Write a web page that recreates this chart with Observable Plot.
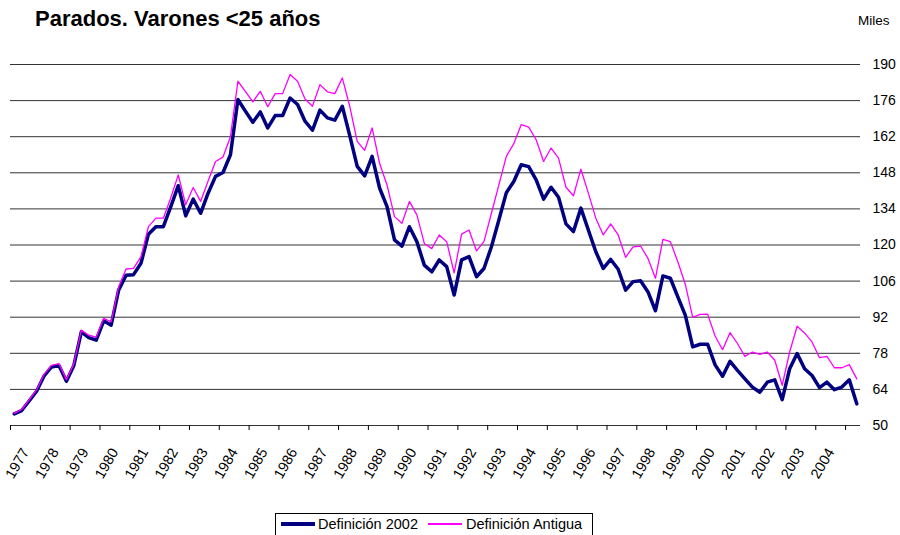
<!DOCTYPE html>
<html><head><meta charset="utf-8">
<script src="https://cdn.jsdelivr.net/npm/d3@7"></script>
<script src="https://cdn.jsdelivr.net/npm/@observablehq/plot@0.6"></script>
<style>
body{margin:0;background:#fff;font-family:"Liberation Sans",Arial,sans-serif;}
#wrap{position:relative;width:900px;height:535px;overflow:hidden;background:#fff;}
#title{position:absolute;left:35px;top:6px;font-weight:bold;font-size:22px;white-space:nowrap;}
#miles{position:absolute;left:858px;top:13px;font-size:13.5px;}
#chart{position:absolute;left:0;top:40px;}
#legend{position:absolute;left:275px;top:513px;width:316px;height:30px;border:1px solid #000;background:#fff;font-size:14.5px;}
#legend .s{position:absolute;width:34px;}
#legend .t{position:absolute;top:1px;white-space:nowrap;line-height:18px;}
</style></head><body>
<div id="wrap">
  <div id="title">Parados. Varones &lt;25 años</div>
  <div id="miles">Miles</div>
  <div id="chart"></div>
  <div id="legend">
    <div class="s" style="left:5px;top:8px;height:3.5px;background:#000080"></div>
    <div class="t" style="left:42px">Definición 2002</div>
    <div class="s" style="left:152px;top:9px;height:1.5px;background:#ff00ff"></div>
    <div class="t" style="left:190px">Definición Antigua</div>
  </div>
</div>
<script>
// Tick labels (one per year, quarterly data starting 1977 Q1)
const years = d3.range(1977, 2005);
const yTicks = [50, 64, 78, 92, 106, 120, 134, 148, 162, 176, 190];

// Definición 2002 (miles), quarterly
const def2002 = [
  54.5, 55.8, 59.5, 63.3, 69.2, 72.7, 73.3, 67.2, 73.3, 86.3,
  84.1, 83.1, 90.6, 88.9, 102.5, 108.3, 108.5, 112.9, 124.2, 127.1,
  127.1, 134.9, 143.0, 131.3, 137.8, 132.3, 140.1, 146.6, 148.1, 155.0,
  176.4, 171.9, 167.6, 171.6, 165.4, 170.2, 170.2, 177.0, 174.5, 168.0,
  164.5, 172.3, 169.3, 168.4, 173.8, 162.4, 150.5, 146.8, 154.4, 142.1,
  134.9, 122.0, 119.6, 127.1, 121.3, 112.2, 109.6, 114.2, 111.6, 100.6,
  114.2, 115.5, 107.7, 110.9, 119.3, 129.7, 140.3, 144.6, 151.1, 150.4,
  145.3, 137.8, 142.4, 138.5, 128.2, 125.2, 134.3, 125.8, 117.4, 110.9,
  114.4, 110.6, 102.5, 105.8, 106.1, 101.8, 94.5, 108.0, 107.1, 99.9,
  92.8, 80.5, 81.5, 81.5, 73.5, 69.1, 74.9, 71.4, 68.1, 64.9,
  62.9, 66.8, 67.7, 60.0, 72.0, 77.9, 72.0, 69.4, 64.7, 66.8,
  63.9, 64.9, 67.7, 58.4
];

// Definición Antigua (miles), quarterly
const antigua = [
  54.7, 56.2, 59.9, 63.8, 69.8, 73.3, 74.0, 67.8, 74.0, 87.0,
  85.0, 84.3, 91.6, 90.2, 103.8, 110.7, 110.9, 115.5, 127.1, 130.4,
  130.4, 138.3, 147.2, 135.6, 142.3, 136.9, 144.8, 152.4, 154.1, 162.0,
  183.5, 179.6, 175.5, 179.6, 173.6, 178.7, 178.7, 186.1, 183.5, 176.6,
  173.8, 182.2, 179.4, 178.7, 184.8, 173.8, 160.2, 156.7, 165.4, 151.7,
  143.3, 131.0, 128.4, 136.9, 131.7, 120.6, 118.6, 123.9, 121.3, 109.2,
  124.2, 125.8, 117.7, 121.3, 132.3, 143.3, 154.4, 159.3, 166.7, 165.7,
  160.8, 152.4, 157.6, 153.7, 142.4, 139.1, 149.4, 140.1, 130.4, 123.9,
  128.2, 123.9, 115.2, 119.3, 119.6, 114.8, 107.1, 122.2, 121.3, 113.5,
  104.8, 91.9, 93.1, 93.2, 84.7, 79.4, 86.0, 81.8, 76.8, 78.5,
  77.6, 78.5, 75.3, 65.6, 78.5, 88.5, 85.9, 82.4, 76.3, 76.8,
  72.4, 72.4, 73.6, 68.1
];

const n = def2002.length;
const boundaries = d3.range(0, n, 4).map(i => i - 0.5);

const chart = Plot.plot({
  width: 900,
  height: 470,
  marginTop: 24,
  marginBottom: 85,
  marginLeft: 10,
  marginRight: 40,
  x: {domain: [-0.5, n - 0.5], axis: null},
  y: {domain: [50, 190], axis: null},
  style: {fontFamily: "Liberation Sans, Arial, sans-serif", fontSize: "14px", color: "#000", background: "#fff"},
  marks: [
    Plot.ruleY(yTicks, {stroke: "#333", strokeWidth: 1}),
    Plot.axisY({anchor: "right", ticks: yTicks, tickSize: 0, tickPadding: 12, fontSize: 14, tickFormat: d => String(d), label: null}),
    Plot.axisX({anchor: "bottom", ticks: boundaries, tickSize: 5, tickFormat: () => "", label: null, stroke: "#000"}),
    Plot.text(years, {
      x: (d, i) => i * 4 + 1.5,
      text: d => String(d),
      frameAnchor: "bottom",
      dy: 24,
      rotate: -60,
      textAnchor: "end",
      lineAnchor: "middle",
      fontSize: 14.5,
      fill: "#000"
    }),
    Plot.line(def2002, {x: (d, i) => i, y: d => d, stroke: "#000080", strokeWidth: 3.5}),
    Plot.line(antigua, {x: (d, i) => i, y: d => d, stroke: "#ff00ff", strokeWidth: 1.3})
  ]
});
document.getElementById("chart").appendChild(chart);
</script>
</body></html>
